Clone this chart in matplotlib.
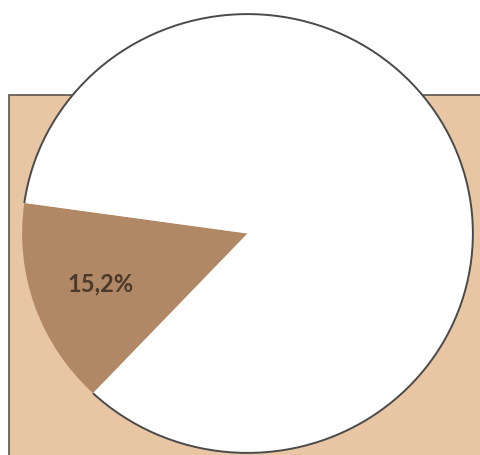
import matplotlib
matplotlib.use("Agg")
import matplotlib.pyplot as plt
from matplotlib.patches import Rectangle, Arc

# data
shares = [15.2, 84.8]
slice_colors = ["#B08866", "#FFFFFF"]

W, H = 481, 455
fig = plt.figure(figsize=(W / 100, H / 100), dpi=100)
fig.patch.set_facecolor("white")

# background panel in pixel coordinates
bg = fig.add_axes([0, 0, 1, 1])
bg.set_xlim(0, W)
bg.set_ylim(H, 0)
bg.axis("off")
bg.add_patch(Rectangle((9.5, 95), W + 20, H, facecolor="#E8C5A3",
                       edgecolor="#5a5550", linewidth=1.2))

# pie axes sized to the (slightly squashed) circle
left, right, top, bottom = 21, 474, 13, 454
ax = fig.add_axes([left / W, (H - bottom) / H, (right - left) / W, (bottom - top) / H])
ax.patch.set_alpha(0)

wedges, texts, autotexts = ax.pie(
    shares, colors=slice_colors, startangle=172, counterclock=True,
    radius=1, autopct=lambda p: f"{p:.1f}%".replace(".", ",") if p < 50 else "",
    pctdistance=0.69, wedgeprops=dict(edgecolor="none", linewidth=0),
    textprops=dict(color="#4B3A2C", fontsize=17, fontweight="bold", family="Lato"))
ax.set_aspect("auto")
ax.set_xlim(-1.005, 1.005)
ax.set_ylim(-1.005, 1.005)
ax.axis("off")

# outline only on the white part
w = wedges[1]
ax.add_patch(Arc((0, 0), 2, 2, theta1=w.theta1, theta2=w.theta2,
                 color="#4a4a4a", linewidth=1.4))

fig.savefig("out.png", dpi=100)
